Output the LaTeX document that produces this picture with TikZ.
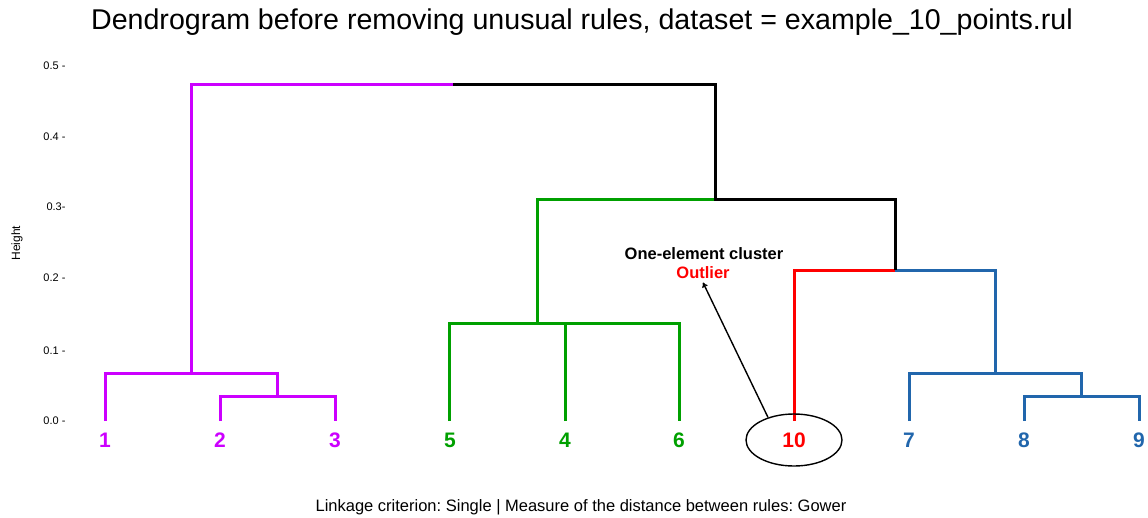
\documentclass[tikz,border=0pt]{standalone}
\usepackage{fontspec}
\setmainfont{Liberation Sans}
\frenchspacing
\usetikzlibrary{shapes.geometric,arrows.meta}
\definecolor{magc}{RGB}{204,0,255}
\definecolor{grnc}{RGB}{0,160,0}
\definecolor{bluc}{RGB}{33,102,172}
\definecolor{redc}{RGB}{255,0,0}
\begin{document}
\begin{tikzpicture}[x=1pt,y=-1pt,
    branch/.style={line width=3pt},
    leaf/.style={font=\fontsize{21}{21}\selectfont\bfseries},
    tick/.style={anchor=east,font=\fontsize{11}{11}\selectfont}]
  \useasboundingbox (0,0) rectangle (1148,517);

  % title and captions
  \node (T) at (582,22) {\fontsize{28.6}{28.6}\selectfont Dendrogram before removing unusual rules, dataset = example\_10\_points.rul};
  \node (C) at (581,507) {\fontsize{16.5}{16.5}\selectfont Linkage criterion: Single | Measure of the distance between rules: Gower};
  \node[rotate=90,font=\fontsize{12}{12}\selectfont] (H) at (17,243) {Height};
  \node[tick] (y5) at (69,66) {0.5 -};
  \node[tick] (y4) at (69,137) {0.4 -};
  \node[tick] (y3) at (69,207) {0.3-};
  \node[tick] (y2) at (69,278) {0.2 -};
  \node[tick] (y1) at (69,351) {0.1 -};
  \node[tick] (y0) at (69,421) {0.0 -};

  % leaves
  \node[leaf,text=magc] (n1) at (105,440) {1};
  \node[leaf,text=magc] (n2) at (220,440) {2};
  \node[leaf,text=magc] (n3) at (335,440) {3};
  \node[leaf,text=grnc] (n5) at (450,440) {5};
  \node[leaf,text=grnc] (n4) at (565,440) {4};
  \node[leaf,text=grnc] (n6) at (679,440) {6};
  \node[leaf,text=redc] (n10) at (794,440) {10};
  \node[leaf,text=bluc] (n7) at (909,440) {7};
  \node[leaf,text=bluc] (n8) at (1024,440) {8};
  \node[leaf,text=bluc] (n9) at (1139,440) {9};

  \coordinate (t1) at (105,421);
  \coordinate (t2) at (220,421);
  \coordinate (t3) at (335,421);
  \coordinate (t5) at (449,421);
  \coordinate (t4) at (565,421);
  \coordinate (t6) at (679,421);
  \coordinate (t10) at (794,421);
  \coordinate (t7) at (909,421);
  \coordinate (t8) at (1024,421);
  \coordinate (t9) at (1139,421);

  % merge points
  \coordinate (m23) at (277.5,396);
  \coordinate (m123) at (191,373);
  \coordinate (m46) at (622,323);
  \coordinate (m546) at (537,323);
  \coordinate (m89) at (1081.5,396);
  \coordinate (m789) at (995,373);
  \coordinate (mrb) at (895,270);
  \coordinate (mgk) at (715,199);
  \coordinate (mtop) at (453,84);

  \draw[branch,magc] (t2) |- (m23) -| (t3);
  \draw[branch,magc] (t1) |- (m123) -| (m23);
  \draw[branch,magc] (m123) |- (mtop);
  \draw[branch,grnc] (t4) |- (m46) -| (t6);
  \draw[branch,grnc] (t5) |- (m546) -| (m46);
  \draw[branch,grnc] (m546) |- (mgk);
  \draw[branch,bluc] (t8) |- (m89) -| (t9);
  \draw[branch,bluc] (t7) |- (m789) -| (m89);
  \draw[branch,bluc] (mrb) -| (m789);
  \draw[branch,redc] (t10) |- (mrb);
  \draw[branch,black] (mtop) -| (mgk) -| (mrb);

  % annotation
  \node[draw,ellipse,line width=1.4pt,minimum width=96pt,minimum height=52pt] (ring) at (794,440) {};
  \node[font=\fontsize{16.5}{16.5}\selectfont\bfseries] (cl) at (704,254) {One-element cluster};
  \node[font=\fontsize{16.5}{16.5}\selectfont\bfseries,text=redc] (out) at (703,273) {Outlier};
  \draw[-{To[length=5pt,width=6pt]},line width=1.4pt] (ring.139) -- (out.south);
\end{tikzpicture}
\end{document}
